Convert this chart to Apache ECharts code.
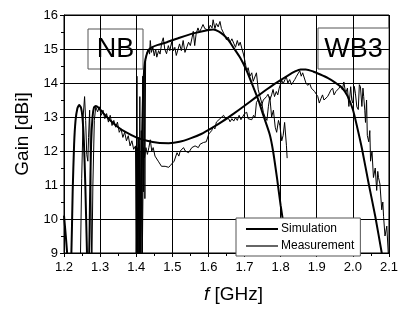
<!DOCTYPE html>
<html>
<head>
<meta charset="utf-8">
<script src="https://cdn.jsdelivr.net/npm/echarts@6/dist/echarts.min.js"></script>
<style>
  html, body { margin: 0; padding: 0; background: #fff; }
  #chart { width: 401px; height: 309px; }
</style>
</head>
<body>
<div id="chart"></div>
<script>
// x tick labels (GHz) and y tick labels (dBi)
const xTicks = [1.2, 1.3, 1.4, 1.5, 1.6, 1.7, 1.8, 1.9, 2.0, 2.1]
const yTicks = [9, 10, 11, 12, 13, 14, 15, 16]

// simulation, high band curve [f, gain]
const simA = [
  [1.408, 8.5], [1.413, 10.5], [1.417, 12.8], [1.420, 14.0], [1.424, 14.6], [1.429, 14.84],
  [1.435, 14.98], [1.443, 15.05], [1.46, 15.12], [1.485, 15.2], [1.52, 15.33], [1.558, 15.46],
  [1.6, 15.56], [1.613, 15.57], [1.628, 15.52], [1.642, 15.41], [1.657, 15.24], [1.67, 15.03],
  [1.688, 14.74], [1.706, 14.36], [1.724, 13.89], [1.738, 13.51], [1.752, 13.05], [1.77, 12.48],
  [1.779, 12.0], [1.79, 11.2], [1.8, 10.4], [1.81, 9.7], [1.82, 8.9]
]

// simulation, broad curve [f, gain]
const simB = [
  [1.2, 10.1], [1.205, 9.5], [1.21, 8.8], [1.215, 8.0], [1.22, 8.8], [1.224, 10.8], [1.228, 12.2],
  [1.232, 12.9], [1.237, 13.25], [1.242, 13.35], [1.247, 13.28], [1.251, 13.0], [1.255, 12.3],
  [1.259, 11.0], [1.263, 9.3], [1.266, 8.2], [1.269, 8.5], [1.272, 10.5], [1.275, 12.2], [1.279, 13.0],
  [1.283, 13.28], [1.288, 13.32], [1.295, 13.28], [1.31, 13.1], [1.33, 12.88], [1.35, 12.7],
  [1.37, 12.56], [1.40, 12.4], [1.43, 12.3], [1.46, 12.24], [1.49, 12.23], [1.52, 12.27],
  [1.55, 12.37], [1.58, 12.5], [1.61, 12.68], [1.64, 12.88], [1.67, 13.1], [1.70, 13.33],
  [1.73, 13.57], [1.76, 13.8], [1.79, 14.02], [1.82, 14.22], [1.84, 14.34], [1.855, 14.4],
  [1.87, 14.4], [1.89, 14.34], [1.91, 14.25], [1.93, 14.15], [1.95, 14.02], [1.97, 13.86],
  [1.985, 13.62], [2.0, 13.22], [2.012, 12.7], [2.025, 12.08], [2.044, 11.03], [2.062, 10.08],
  [2.08, 9.0], [2.086, 8.6]
]

// measurement, high band curve [f, gain]
const measA = [
  [1.400, 8.5], [1.402, 14.2], [1.404, 8.5], [1.406, 12.4], [1.408, 8.5], [1.410, 13.6], [1.412, 8.5],
  [1.414, 12.6], [1.416, 9.0], [1.418, 14.2], [1.420, 10.8], [1.422, 14.4], [1.424, 10.6], [1.426, 14.7],
  [1.43, 14.9], [1.434, 15.0], [1.437, 14.85], [1.439, 15.25], [1.442, 14.9], [1.446, 15.05], [1.45, 14.8],
  [1.454, 15.0], [1.457, 14.76], [1.462, 14.95], [1.466, 14.85], [1.471, 15.2], [1.475, 15.33],
  [1.479, 15.0], [1.484, 14.86], [1.489, 15.1], [1.493, 14.95], [1.498, 15.2], [1.503, 14.95],
  [1.507, 15.05], [1.511, 14.81], [1.516, 15.0], [1.52, 15.15], [1.525, 14.95], [1.53, 15.25],
  [1.535, 14.9], [1.54, 14.95], [1.545, 15.2], [1.55, 15.1], [1.555, 15.35], [1.558, 15.52],
  [1.562, 15.1], [1.566, 15.45], [1.571, 15.62], [1.575, 15.5], [1.58, 15.6], [1.585, 15.72],
  [1.59, 15.6], [1.595, 15.65], [1.6, 15.55], [1.605, 15.7], [1.61, 15.62], [1.613, 15.86],
  [1.618, 15.6], [1.622, 15.75], [1.627, 15.65], [1.632, 15.81], [1.636, 15.6], [1.641, 15.65],
  [1.645, 15.4], [1.65, 15.27], [1.655, 15.35], [1.66, 15.2], [1.665, 15.3], [1.67, 15.17],
  [1.675, 15.05], [1.68, 15.25], [1.684, 15.1], [1.688, 15.2], [1.693, 15.0], [1.697, 14.85],
  [1.702, 14.6], [1.706, 14.36], [1.71, 14.45], [1.715, 14.2], [1.72, 14.3], [1.724, 14.05],
  [1.728, 14.1], [1.733, 14.3], [1.738, 13.8], [1.743, 13.6], [1.748, 13.4], [1.752, 13.14],
  [1.757, 13.0], [1.762, 12.9], [1.766, 13.3], [1.77, 13.6], [1.775, 13.0], [1.78, 13.2],
  [1.785, 12.7], [1.789, 12.55], [1.794, 12.9], [1.798, 12.74], [1.803, 12.3], [1.807, 12.46],
  [1.811, 12.84], [1.816, 12.17], [1.818, 11.79]
]

// measurement, broad curve [f, gain]
const measB = [
  [1.245, 8.5], [1.249, 11.2], [1.253, 13.0], [1.257, 13.6], [1.26, 12.9], [1.263, 11.9], [1.266, 11.7],
  [1.268, 12.4], [1.271, 13.2], [1.274, 11.2], [1.277, 8.5], [1.28, 11.0], [1.284, 12.9], [1.288, 13.3],
  [1.293, 13.15], [1.298, 13.3], [1.303, 13.05], [1.308, 13.2], [1.313, 12.95], [1.318, 13.1],
  [1.323, 12.85], [1.328, 13.05], [1.333, 12.75], [1.338, 12.9], [1.343, 12.7], [1.348, 12.85],
  [1.353, 12.55], [1.358, 12.65], [1.363, 12.4], [1.368, 12.55], [1.373, 12.3], [1.378, 12.45],
  [1.383, 12.15], [1.388, 12.3], [1.393, 12.05], [1.398, 12.15], [1.400, 8.5], [1.403, 12.1],
  [1.405, 8.5], [1.408, 12.2], [1.411, 8.5], [1.414, 12.0], [1.417, 9.0], [1.42, 12.1], [1.423, 11.8],
  [1.427, 12.1], [1.431, 11.9], [1.435, 12.1], [1.439, 12.33], [1.443, 12.0], [1.447, 12.1],
  [1.452, 11.85], [1.457, 11.9], [1.461, 11.7], [1.466, 11.75], [1.47, 11.55], [1.475, 11.6],
  [1.48, 11.55], [1.485, 11.6], [1.49, 11.52], [1.495, 11.58], [1.5, 11.55], [1.505, 11.7],
  [1.509, 11.75], [1.513, 11.95], [1.518, 11.85], [1.522, 12.0], [1.527, 11.95], [1.531, 12.1],
  [1.536, 12.0], [1.54, 12.05], [1.545, 11.95], [1.549, 11.97], [1.554, 12.1], [1.558, 12.05],
  [1.563, 12.15], [1.567, 12.17], [1.572, 12.1], [1.577, 12.2], [1.582, 12.15], [1.586, 12.25],
  [1.59, 12.2], [1.594, 12.27], [1.598, 12.25], [1.601, 12.5], [1.605, 12.55], [1.609, 12.6],
  [1.613, 12.71], [1.618, 12.65], [1.622, 12.85], [1.627, 12.8], [1.632, 12.95], [1.637, 12.9],
  [1.642, 13.05], [1.647, 12.95], [1.651, 12.9], [1.656, 12.95], [1.66, 12.86], [1.665, 12.95],
  [1.67, 12.88], [1.675, 12.98], [1.68, 12.9], [1.685, 13.05], [1.69, 12.92], [1.695, 12.95],
  [1.7, 13.1], [1.706, 13.14], [1.71, 12.95], [1.715, 13.0], [1.72, 12.92], [1.725, 13.05],
  [1.729, 12.98], [1.733, 13.43], [1.737, 13.5], [1.74, 13.52], [1.744, 13.4], [1.747, 13.33],
  [1.752, 13.5], [1.757, 13.45], [1.761, 13.6], [1.765, 13.67], [1.77, 13.5], [1.775, 13.65],
  [1.779, 13.81], [1.783, 13.6], [1.788, 13.75], [1.792, 13.65], [1.796, 13.85], [1.8, 13.8],
  [1.803, 14.08], [1.807, 13.98], [1.812, 14.1], [1.816, 14.17], [1.82, 14.0], [1.825, 14.1],
  [1.83, 13.95], [1.834, 13.93], [1.839, 14.1], [1.844, 14.2], [1.848, 14.15], [1.853, 14.36],
  [1.857, 14.2], [1.861, 14.3], [1.866, 14.27], [1.87, 14.0], [1.875, 13.93], [1.88, 14.0],
  [1.885, 13.85], [1.889, 13.9], [1.894, 13.75], [1.898, 13.79], [1.903, 13.6], [1.907, 13.41],
  [1.912, 13.55], [1.916, 13.65], [1.92, 13.5], [1.925, 13.46], [1.93, 13.6], [1.935, 13.7],
  [1.939, 13.79], [1.944, 13.85], [1.948, 13.65], [1.953, 13.75], [1.957, 13.7], [1.962, 13.85],
  [1.966, 13.93], [1.971, 13.8], [1.975, 14.03], [1.98, 13.7], [1.985, 13.85], [1.989, 13.31],
  [1.994, 13.89], [1.997, 13.5], [2.0, 13.41], [2.004, 13.9], [2.007, 13.7], [2.011, 13.3],
  [2.015, 13.22], [2.018, 13.95], [2.021, 13.89], [2.025, 13.31], [2.028, 13.85], [2.03, 13.6],
  [2.033, 13.2], [2.035, 12.84], [2.038, 13.5], [2.04, 12.46], [2.044, 12.27], [2.047, 12.6],
  [2.049, 11.7], [2.053, 12.0], [2.057, 11.22], [2.062, 11.5], [2.066, 10.84], [2.069, 11.4],
  [2.071, 11.22], [2.075, 11.03], [2.08, 10.27], [2.083, 10.5], [2.085, 10.08], [2.089, 9.5],
  [2.094, 9.79], [2.098, 9.0], [2.1, 8.8]
]

const FONT = '"Liberation Sans", Arial, sans-serif'

const chart = echarts.init(document.getElementById('chart'), null, { renderer: 'canvas' })

function tagBox(x, y, w, h, label) {
  return {
    type: 'group',
    z: 100,
    children: [
      { type: 'rect', shape: { x: x, y: y, width: w, height: h }, style: { fill: '#fff', stroke: '#555', lineWidth: 1 } },
      {
        type: 'text',
        x: x + w / 2,
        y: y + h / 2 + 1,
        style: { text: label, font: '27px ' + FONT, fill: '#000', align: 'center', verticalAlign: 'middle' }
      }
    ]
  }
}

const option = {
  animation: false,
  backgroundColor: '#fff',
  grid: {
    left: 64, right: 8, top: 15, bottom: 52,
    show: true, borderColor: '#000', borderWidth: 1, backgroundColor: 'transparent'
  },
  xAxis: {
    type: 'value',
    min: xTicks[0],
    max: xTicks[xTicks.length - 1],
    interval: 0.1,
    name: '{i|f} [GHz]',
    nameLocation: 'middle',
    nameGap: 32,
    nameTextStyle: {
      fontFamily: FONT, fontSize: 19, color: '#000', padding: [0, 0, 0, 14],
      rich: { i: { fontFamily: FONT, fontSize: 19, fontStyle: 'italic', color: '#000' } }
    },
    axisLine: { lineStyle: { color: '#000', width: 1 } },
    axisTick: { inside: false, length: 4, lineStyle: { color: '#000' } },
    minorTick: { show: true, splitNumber: 2, length: 3, lineStyle: { color: '#000' } },
    splitLine: { show: true, lineStyle: { color: '#000', width: 1 } },
    axisLabel: {
      margin: 8, fontFamily: FONT, fontSize: 13, color: '#000',
      formatter: v => v.toFixed(1)
    }
  },
  yAxis: {
    type: 'value',
    min: yTicks[0],
    max: yTicks[yTicks.length - 1],
    interval: 1,
    name: 'Gain [dBi]',
    nameLocation: 'middle',
    nameGap: 28,
    nameTextStyle: { fontFamily: FONT, fontSize: 19, color: '#000' },
    axisLine: { show: true, lineStyle: { color: '#000', width: 1 } },
    axisTick: { show: true, inside: false, length: 4, lineStyle: { color: '#000' } },
    minorTick: { show: true, splitNumber: 2, length: 3, lineStyle: { color: '#000' } },
    splitLine: { show: true, lineStyle: { color: '#000', width: 1 } },
    axisLabel: { margin: 6, fontFamily: FONT, fontSize: 13, color: '#000' }
  },
  legend: {
    orient: 'vertical',
    left: 236,
    top: 218,
    width: 130,
    padding: [5, 6, 4, 10],
    itemGap: 5,
    itemWidth: 32,
    itemHeight: 2,
    backgroundColor: '#fff',
    borderColor: '#555',
    borderWidth: 1,
    borderRadius: 0,
    textStyle: { fontFamily: FONT, fontSize: 12, color: '#000', padding: [0, 0, 0, -2] },
    data: [
      { name: 'Simulation', icon: 'rect', itemStyle: { color: '#000' } },
      { name: 'Measurement', icon: 'rect', itemStyle: { color: '#666' } }
    ]
  },
  graphic: [
    tagBox(88, 29, 55, 40, 'NB'),
    tagBox(318, 28, 71, 41, 'WB3')
  ],
  series: [
    { name: 'Measurement', type: 'line', data: measB, showSymbol: false, clip: true, lineStyle: { color: '#000', width: 1 }, itemStyle: { color: '#000' } },
    { name: 'Measurement', type: 'line', data: measA, showSymbol: false, clip: true, lineStyle: { color: '#000', width: 1 }, itemStyle: { color: '#000' } },
    { name: 'Simulation', type: 'line', data: simB, showSymbol: false, clip: true, smooth: 0.2, lineStyle: { color: '#000', width: 2 }, itemStyle: { color: '#000' } },
    { name: 'Simulation', type: 'line', data: simA, showSymbol: false, clip: true, smooth: 0.2, lineStyle: { color: '#000', width: 2 }, itemStyle: { color: '#000' } }
  ]
}

chart.setOption(option)
</script>
</body>
</html>
